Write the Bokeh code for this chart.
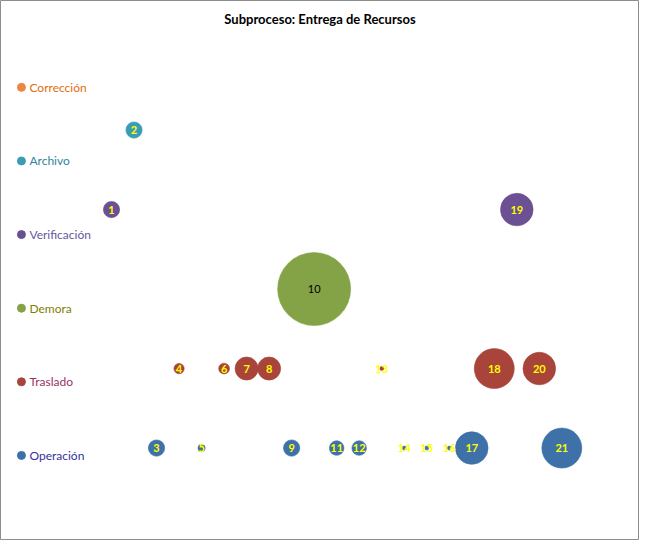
from bokeh.plotting import figure
from bokeh.models import Range1d, ColumnDataSource, Label
from bokeh.core.properties import value
from bokeh.embed import file_html
from bokeh.resources import INLINE
import math

# Categories (legend rows)
categories = ["Operación", "Traslado", "Demora", "Verificación", "Archivo", "Corrección"]
cat_y = [1, 2, 3, 4, 5, 6]
cat_x = [-3, -3, -3, -3, -3, -3]
dot_colors = ["#3D71A7", "#A9443A", "#84A347", "#6B5093", "#3A9DB5", "#EC8540"]
text_colors = ["#333399", "#993366", "#7F7F00", "#5F5A9C", "#31859C", "#E36C0A"]

# Activities (bubbles)
activity = [1, 2, 3, 4, 5, 6, 7, 8, 9, 10, 11, 12, 13, 14, 15, 16, 17, 18, 19, 20, 21]
act_type = ["Verificación", "Archivo", "Operación", "Traslado", "Operación", "Traslado",
            "Traslado", "Traslado", "Operación", "Demora", "Operación", "Operación",
            "Traslado", "Operación", "Operación", "Operación", "Operación", "Traslado",
            "Verificación", "Traslado", "Operación"]
duration = [5, 5, 5, 2, 1, 2.2, 10, 10, 5, 100, 4, 4, 0.3, 0.3, 0.3, 0.3, 20, 30, 20, 20, 30]
row_y = {"Operación": 1.1, "Traslado": 2.18, "Demora": 3.26, "Verificación": 4.34,
         "Archivo": 5.42, "Corrección": 6.5}

title_text = "Subproceso: Entrega de Recursos"

W, H = 639, 540
p = figure(width=W, height=H, output_backend="svg", toolbar_location=None,
           x_range=Range1d(-3.93, 24.45), y_range=Range1d(-0.156, 7.18),
           min_border=0, min_border_left=0, min_border_right=0,
           min_border_top=0, min_border_bottom=0)
p.xaxis.visible = False
p.yaxis.visible = False
p.xgrid.visible = False
p.ygrid.visible = False
p.outline_line_color = "#8C8C8C"
p.outline_line_width = 1
p.background_fill_color = "white"
p.border_fill_color = "white"

color_map = dict(zip(categories, dot_colors))
scale = 7.3
src = ColumnDataSource(dict(
    x=activity,
    y=[row_y[t] for t in act_type],
    size=[scale * math.sqrt(d) for d in duration],
    color=[color_map[t] for t in act_type],
    label=[str(a) for a in activity],
    tcolor=["#000000" if a == 10 else "#FFFF00" for a in activity],
    tstyle=["normal" if a == 10 else "bold" for a in activity],
))
p.scatter("x", "y", size="size", fill_color="color", line_color="color",
          line_alpha=0.6, source=src)
p.text("x", "y", text="label", text_color="tcolor", text_font_style="tstyle",
       text_font=value("Lato"), text_font_size="11px", text_align="center",
       text_baseline="middle", source=src)

# Legend-like category labels
lsrc = ColumnDataSource(dict(x=cat_x, y=cat_y, c=dot_colors, tc=text_colors, t=categories))
p.scatter("x", "y", size=8, fill_color="c", line_color="c", source=lsrc)
p.text("x", "y", text="t", text_color="tc", text_font=value("Lato"), text_font_size="12px",
       text_align="left", text_baseline="middle", x_offset=8, source=lsrc)

p.add_layout(Label(x=W / 2, y=H - 18, x_units="screen", y_units="screen", text=title_text,
                   text_font="Lato", text_font_style="bold", text_font_size="13px",
                   text_align="center", text_baseline="middle", text_color="#000000"))

open("out.html", "w").write(file_html(p, INLINE))
